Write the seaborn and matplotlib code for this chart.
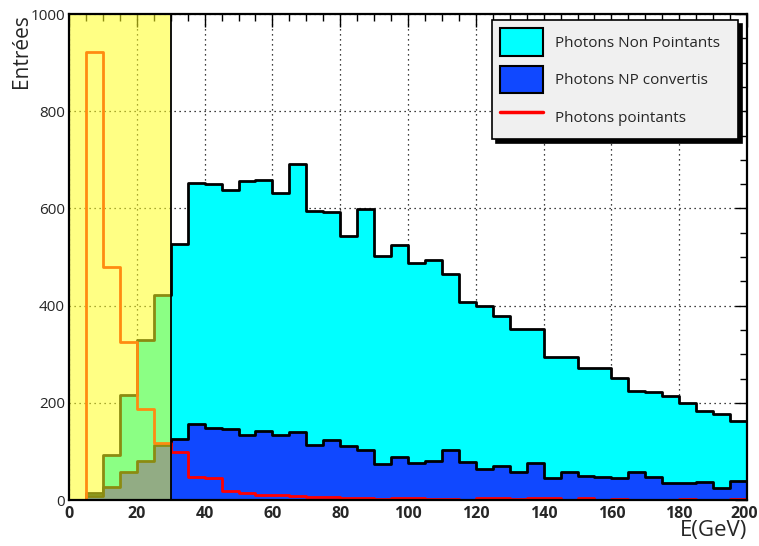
import matplotlib
matplotlib.use("Agg")
import matplotlib.pyplot as plt
import matplotlib.transforms as mtransforms
import seaborn as sns
import pandas as pd
from matplotlib.patches import Patch
from matplotlib.lines import Line2D
from matplotlib.ticker import MultipleLocator

# ---------------- data ----------------
bin_edges = list(range(0, 205, 5))  # 0..200 GeV, 5 GeV bins

non_pointants = [0, 15, 92, 217, 330, 422, 526, 652, 650, 638,
                 657, 659, 631, 691, 595, 593, 544, 599, 502, 525,
                 487, 494, 466, 408, 400, 379, 352, 351, 295, 295,
                 272, 272, 252, 225, 223, 213, 200, 183, 176, 163]

np_convertis = [0, 8, 27, 57, 80, 113, 126, 156, 148, 147,
                133, 142, 134, 140, 114, 123, 111, 103, 75, 89,
                77, 81, 103, 79, 64, 69, 58, 77, 45, 58,
                49, 48, 45, 58, 48, 36, 34, 38, 25, 40]

pointants = [0, 922, 480, 325, 188, 118, 99, 48, 45, 18,
             15, 11, 11, 8, 7, 7, 4, 5, 3, 5,
             4, 2, 2, 1, 4, 4, 2, 4, 4, 1,
             4, 1, 3, 1, 1, 1, 3, 1, 1, 2]

legend_labels = ["Photons Non Pointants", "Photons NP convertis", "Photons pointants"]
x_label = "E(GeV)"
y_label = "Entrées"

# ---------------- style ----------------
sns.set_style("white")
plt.rcParams['font.family'] = ['Open Sans', 'DejaVu Sans']

fig = plt.figure(figsize=(7.59, 5.46), dpi=100)
ax = fig.add_axes([69 / 759, 46 / 546, 678 / 759, 486 / 546])

centers = [(a + b) / 2 for a, b in zip(bin_edges[:-1], bin_edges[1:])]
df = pd.DataFrame({"E": centers, "nonp": non_pointants,
                   "conv": np_convertis, "point": pointants})

cyan = "#00ffff"
blue = "#1048ff"
red = "#ff0000"

sns.histplot(data=df, x="E", weights="nonp", bins=bin_edges, element="step",
             fill=True, color=cyan, alpha=1, edgecolor="black", linewidth=2,
             ax=ax)
sns.histplot(data=df, x="E", weights="conv", bins=bin_edges, element="step",
             fill=True, color=blue, alpha=1, edgecolor="black", linewidth=2,
             ax=ax)
sns.histplot(data=df, x="E", weights="point", bins=bin_edges, element="step",
             fill=False, color=red, linewidth=2, ax=ax)

# yellow transparent region
ax.axvspan(0, 30, facecolor="#ffff20", alpha=0.55, edgecolor="none", zorder=4)
ax.axvline(30, color="black", lw=1.3, zorder=5)

ax.set_xlim(0, 200)
ax.set_ylim(0, 1000)
ax.xaxis.set_major_locator(MultipleLocator(20))
ax.xaxis.set_minor_locator(MultipleLocator(5))
ax.yaxis.set_major_locator(MultipleLocator(200))
ax.yaxis.set_minor_locator(MultipleLocator(50))
ax.set_axisbelow(True)
ax.grid(True, which="major", ls=(0, (1, 3)), color="black", lw=0.9)
ax.tick_params(which="both", direction="in", top=True, right=True,
               color="black", width=1)
ax.tick_params(which="major", length=9, pad=3)
ax.tick_params(which="minor", length=5)
ax.tick_params(axis="x", labelsize=11.5, pad=4)
ax.tick_params(axis="y", labelsize=11, pad=3)
for s in ax.spines.values():
    s.set_color("black")
    s.set_linewidth(1.6)
    s.set_zorder(6)

ax.set_xlabel(x_label, loc="right", fontsize=16, labelpad=-1)
ax.set_ylabel(y_label, loc="top", fontsize=15, labelpad=-1)

handles = [Patch(facecolor=cyan, edgecolor="black", lw=1.5),
           Patch(facecolor=blue, edgecolor="black", lw=1.5),
           Line2D([0], [0], color=red, lw=2.5)]
leg = ax.legend(handles, legend_labels, loc="upper left",
                bbox_to_anchor=(0.624, 0.988, 0.363, 0.0), mode="expand",
                fontsize=11,
                frameon=True, fancybox=False, framealpha=1,
                facecolor="#f0f0f0", edgecolor="black",
                handlelength=2.8, handleheight=2.4, labelspacing=0.65,
                borderpad=0.55, handletextpad=0.8, borderaxespad=0,
                shadow={"color": "black", "alpha": 1, "ox": 3, "oy": -3})
leg.get_frame().set_linewidth(1.2)
leg.set_zorder(10)

fig.canvas.draw()
shift = mtransforms.ScaledTranslation(-3 / 100, 0, fig.dpi_scale_trans)
for tick in ax.xaxis.get_major_ticks():
    tick.label1.set_fontweight("bold")
    if tick.label1.get_text() == "200":
        tick.label1.set_transform(tick.label1.get_transform() + shift)

fig.savefig("out.png", dpi=100)
